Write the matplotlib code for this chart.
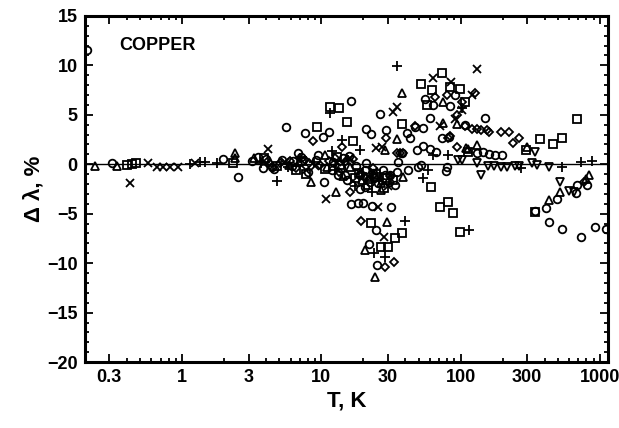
import matplotlib
matplotlib.use("Agg")
import matplotlib.pyplot as plt
from matplotlib.ticker import FixedLocator, LogLocator, MultipleLocator, NullFormatter

plt.rcParams['font.family'] = ['Liberation Sans', 'DejaVu Sans']
plt.rcParams['font.weight'] = 'bold'

# ---- data (T in K, deviation in %) ----
circ_T = [0.208, 0.315, 1.97, 2.52, 3.80, 4.42, 5.56, 7.61, 6.77, 10.2, 11.3, 10.4, 16.2, 20.8,
          22.6, 26.2, 29.0, 41.1, 13.1, 15.2, 18.9, 20.5, 22.3, 23.4, 18.9, 16.2, 18.2, 19.8,
          23.0, 31.6, 24.6, 21.9, 25.0, 28.5, 31.0, 34.9, 41.8, 37.8, 43.2, 46.9, 53.4, 48.4,
          53.4, 59.9, 66.1, 51.7, 49.2, 59.9, 55.2, 62.9, 83.2, 90.4, 72.9, 81.8, 107, 149,
          78.0, 79.2, 144, 160, 177, 199, 130, 339, 411, 434, 495, 535, 675, 686, 808, 733,
          920, 1100, 3.5, 5.2, 6.1, 7.1, 9.1, 11.9, 14.4, 17.7, 14.7, 20.5, 25.4, 33.7,
          3.2, 4.0, 4.6, 6.3, 8.0, 9.5, 12.2, 13.8, 15.8, 19.0, 21.0, 24.0, 27.5, 30.5, 35.5]
circ_D = [11.5, 0.1, 0.5, -1.3, -0.4, -0.3, 3.8, 3.2, 1.1, 2.8, 3.3, -1.8, 6.4, 3.6,
          3.1, 5.1, 3.5, 3.2, -1.1, -1.6, -1.1, -2.3, -1.8, -0.9, -2.5, -4.0, -3.9, -3.9,
          -4.2, -4.3, -6.6, -8.1, -10.2, -1.1, -1.1, -0.8, -0.6, 1.1, 2.7, 3.8, 3.7, 1.4,
          1.8, 1.5, 1.2, -0.1, -0.3, 4.7, 6.6, 6.0, 5.9, 7.0, 2.7, 2.8, 4.0, 4.7,
          -0.7, -0.3, 1.2, 1.0, 0.9, 0.9, 1.1, -4.7, -4.4, -5.8, -3.5, -6.5, -2.9, -2.1, -2.1, -7.4,
          -6.3, -6.5, 0.7, 0.4, -0.2, 0.7, 0.4, -0.6, 0.6, -0.2, -1.1, -0.6, -1.9, -2.1,
          0.3, 0.5, -0.5, 0.3, -0.8, 0.9, 0.2, -0.4, 0.8, -1.0, 0.1, -1.4, -0.6, -1.8, 0.2]

sq_T = [0.40, 0.44, 0.47, 2.32, 9.29, 11.5, 13.3, 15.2, 16.8, 37.8, 7.73, 25.0, 29.5, 22.6,
        33.7, 37.8, 26.7, 30.0, 60.9, 70.5, 80.5, 87.4, 98.1, 72.9, 51.7, 61.9, 83.2, 98.1,
        108, 57.1, 112, 296, 464, 369, 535, 686, 339, 3.9, 6.6, 13.6, 17.4, 21.5, 32.6,
        4.8, 7.3, 10.6, 12.9, 18.5, 24.5, 28.0]
sq_D = [-0.1, 0.0, 0.1, 0.1, 3.8, 5.8, 5.7, 4.3, 2.3, 4.1, -1.0, -1.3, -1.4, -5.9,
        -7.5, -7.0, -8.4, -8.4, -2.3, -4.3, -3.8, -4.9, -6.8, 9.2, 8.1, 7.5, 7.8, 7.6,
        6.3, 6.0, 1.2, 1.4, 2.0, 2.6, 2.7, 4.6, -4.8, 0.6, -0.6, -0.1, -1.4, -2.1, -1.6,
        -0.2, 0.3, -0.5, 0.7, -0.9, -1.0, -2.4]

tri_T = [0.238, 0.342, 2.40, 2.40, 8.40, 12.7, 37.8, 34.9, 28.5, 29.5, 20.5, 24.2, 38.5,
         74.1, 74.1, 93.4, 110, 130, 112, 301, 518, 434, 795, 835, 4.3, 5.9, 10.6, 16.0, 19.5, 26.7,
         3.3, 6.9, 11.0, 14.3, 22.0, 27.0]
tri_D = [-0.2, -0.2, 1.1, 0.6, -1.8, -2.8, 7.2, 2.6, 1.4, -5.8, -8.7, -11.4, -1.3,
         6.3, 4.2, 4.1, 1.6, 1.9, 1.5, 1.7, -2.8, -3.6, -1.5, -1.1, 0.2, -0.1, 0.9, -0.3, -1.6, -2.6,
         0.6, 0.2, -0.3, -1.2, -1.5, -1.9]

tdn_T = [95.0, 103, 130, 156, 174, 196, 216, 244, 264, 323, 355, 434, 339, 518, 602, 655, 141]
tdn_D = [0.4, 0.4, 0.1, -0.2, -0.2, -0.3, -0.3, -0.2, -0.2, 0.1, -0.1, -0.3, 1.2, -1.8, -2.7, -2.8, -1.1]

dia_T = [8.70, 14.0, 16.0, 19.2, 28.5, 33.2, 29.0, 34.9, 36.6, 38.5, 65.0, 79.2, 103, 93.4,
         83.2, 126, 107, 120, 130, 141, 154, 160, 196, 223, 264, 237, 80.5, 93.4, 46.9, 769,
         5.04, 5.94, 7.6, 9.76, 12.5, 14.7, 4.4, 6.6, 8.2, 11.3, 13.4, 17.0, 20.1, 23.5, 31.0]
dia_D = [2.3, 1.7, -2.8, -5.7, -10.4, -9.9, 2.7, 1.1, 1.1, 1.1, 6.8, 7.0, 6.3, 5.0,
         2.9, 7.2, 3.9, 3.6, 3.6, 3.5, 3.5, 3.3, 3.3, 3.3, 2.7, 2.1, 2.7, 1.7, 3.9, -1.8,
         0.1, 0.3, 0.4, -0.1, 0.6, 0.2, -0.3, -0.4, 0.1, 0.3, -0.8, 0.5, -1.3, -0.4, -1.2]

plus_T = [1.14, 1.35, 1.46, 1.78, 4.80, 11.5, 14.0, 34.9, 39.8, 23.8, 28.5, 62.9, 80.5, 58.1,
          53.4, 114, 103, 272, 535, 733, 877, 3.7, 7.0, 12.5, 17.4, 23.0, 18.9,
          5.8, 8.8, 12.0, 15.5, 19.5, 26.0]
plus_D = [0.0, 0.2, 0.2, 0.1, -1.7, 5.2, 2.4, 9.9, -5.7, -9.0, -9.4, 0.9, 0.9, -0.6,
          -1.4, -6.6, 5.7, -0.4, -0.3, 0.2, 0.3, 0.1, 0.6, -0.6, -2.2, -2.8, 1.4,
          -0.3, 0.2, 1.3, 0.4, -0.9, -1.5]

x_T = [0.42, 0.57, 0.66, 0.73, 0.82, 0.94, 1.24, 4.13, 10.8, 34.9, 32.6, 24.6, 27.1, 25.4,
       28.0, 62.9, 84.6, 130, 120, 90.4, 70.5, 103, 5.5, 9.0, 16.0, 21.5, 30.0,
       3.9, 7.8, 13.0, 17.0, 24.0]
x_D = [-1.9, 0.1, -0.3, -0.3, -0.3, -0.3, 0.1, 1.5, -3.5, 5.8, 5.3, 1.6, 1.7, -4.3,
       -7.4, 8.7, 8.3, 9.6, 7.0, 4.6, 3.9, 5.5, 0.2, -0.2, 0.6, -1.2, -2.2,
       0.3, -0.6, 0.2, -1.7, -0.8]

xtick_vals = [0.3, 1, 3, 10, 30, 100, 300, 1000]
xtick_labels = ['0.3', '1', '3', '10', '30', '100', '300', '1000']
ytick_vals = [15, 10, 5, 0, -5, -10, -15, -20]
ytick_labels = ['15', '10', '5', '0', '\u22125', '\u221210', '\u221215', '\u221220']

fig = plt.figure(figsize=(6.19, 4.28), dpi=100)
ax = fig.add_axes([0.137, 0.154, 0.845, 0.809])
ax.set_xscale('log')
ax.set_xlim(0.2, 1140)
ax.set_ylim(-20, 15)

ax.axhline(0, color='black', lw=1.0, zorder=1)

kw = dict(linestyle='none', color='black', markerfacecolor='none', markeredgewidth=1.3, zorder=3)
ax.plot(circ_T, circ_D, marker='o', markersize=5.5, **kw)
ax.plot(sq_T, sq_D, marker='s', markersize=5.5, **kw)
ax.plot(tri_T, tri_D, marker='^', markersize=5.5, **kw)
ax.plot(tdn_T, tdn_D, marker='v', markersize=5.5, **kw)
ax.plot(dia_T, dia_D, marker='D', markersize=4.0, **kw)
ax.plot(plus_T, plus_D, marker='+', markersize=6.5, **kw)
ax.plot(x_T, x_D, marker='x', markersize=5.5, **kw)

ax.xaxis.set_major_locator(FixedLocator(xtick_vals))
ax.set_xticklabels(xtick_labels)
ax.xaxis.set_minor_locator(LogLocator(base=10, subs=[2, 4, 5, 6, 7, 8, 9], numticks=20))
ax.xaxis.set_minor_formatter(NullFormatter())
ax.set_yticks(ytick_vals)
ax.set_yticklabels(ytick_labels)
ax.yaxis.set_minor_locator(MultipleLocator(1))

ax.tick_params(which='both', direction='in', top=True, right=True, width=1.3, colors='black')
ax.tick_params(which='major', length=6, labelsize=13, pad=5)
ax.tick_params(which='minor', length=3)
for lab in ax.get_xticklabels() + ax.get_yticklabels():
    lab.set_fontweight('bold')
for sp in ax.spines.values():
    sp.set_linewidth(2.2)

ax.set_xlabel('T, K', fontsize=16, fontweight='bold', labelpad=3)
ax.set_ylabel('\u0394 \u03bb, %', fontsize=16, fontweight='bold', labelpad=2)
ax.text(0.066, 0.915, 'COPPER', transform=ax.transAxes, fontsize=13, fontweight='bold',
        ha='left', va='center')

fig.savefig('out.png', dpi=100)
